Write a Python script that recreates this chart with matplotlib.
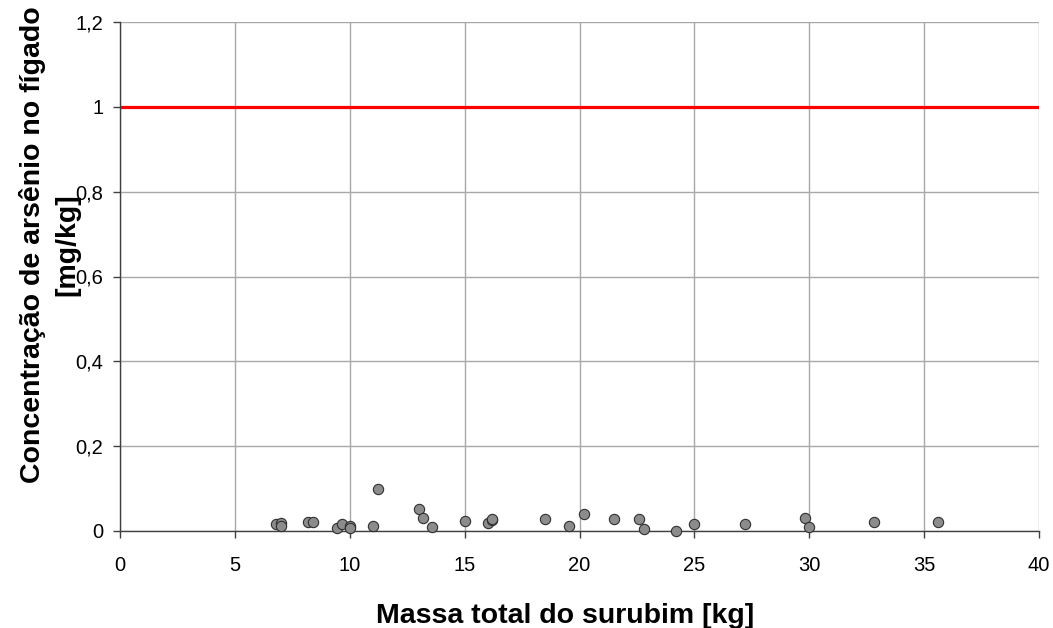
import matplotlib
matplotlib.use("Agg")
import matplotlib.pyplot as plt
from matplotlib.ticker import FuncFormatter

plt.rcParams['font.family'] = ['Liberation Sans', 'DejaVu Sans']

massa = [6.8, 7.0, 7.0, 8.2, 8.4, 9.45, 9.65, 10.0, 10.0, 11.0, 11.25, 13.0, 13.2, 13.6,
         15.0, 16.0, 16.2, 16.2, 18.5, 19.55, 20.2, 21.5, 22.6, 22.8, 24.2, 25.0, 27.2,
         29.8, 30.0, 32.8, 35.6]
arsenio = [0.017, 0.02, 0.012, 0.022, 0.022, 0.008, 0.017, 0.012, 0.006, 0.012, 0.10,
           0.051, 0.031, 0.009, 0.024, 0.02, 0.027, 0.029, 0.029, 0.012, 0.039, 0.029,
           0.029, 0.005, 0.0, 0.017, 0.017, 0.03, 0.01, 0.021, 0.021]
limite = 1.0
xticks = [0, 5, 10, 15, 20, 25, 30, 35, 40]
yticks = [0, 0.2, 0.4, 0.6, 0.8, 1.0, 1.2]

W, H = 1053, 628
L, R, T, B = 120, 1039, 22, 531
fig = plt.figure(figsize=(W/100, H/100), dpi=100)
ax = fig.add_axes([L/W, 1-B/H, (R-L)/W, (B-T)/H])

ax.grid(True, color='#a8a8a8', linewidth=1)
ax.set_axisbelow(True)
ax.axhline(limite, color='#ff0000', linewidth=2.3, zorder=2)
ax.scatter(massa, arsenio, s=55, facecolor='#8c8c8c', edgecolor='#303030',
           linewidth=0.8, zorder=3, clip_on=False)

ax.set_xlim(0, 40)
ax.set_ylim(0, 1.2)
ax.set_xticks(xticks)
ax.set_yticks(yticks)

def fmt(v, pos):
    return ('%g' % round(v, 2)).replace('.', ',')
ax.yaxis.set_major_formatter(FuncFormatter(fmt))
ax.xaxis.set_major_formatter(FuncFormatter(fmt))

for side in ['top', 'right']:
    ax.spines[side].set_visible(False)
for side in ['left', 'bottom']:
    ax.spines[side].set_color('#404040')
    ax.spines[side].set_linewidth(1)

ax.tick_params(axis='both', direction='out', length=5, width=1, color='#404040',
               labelsize=14.5, labelcolor='black')
ax.tick_params(axis='x', pad=13)
ax.tick_params(axis='y', pad=7)

ax.set_xlabel('Massa total do surubim [kg]', fontsize=20.5, fontweight='bold')
ax.xaxis.label.set_va('baseline')
ax.xaxis.set_label_coords((565 - L) / (R - L), (B - 623) / (B - T))
ax.set_ylabel('Concentração de arsênio no fígado\n[mg/kg]', fontsize=20.5,
              fontweight='bold', linespacing=1.4)
ax.yaxis.set_label_coords((80 - L) / (R - L), (B - 245) / (B - T))

fig.savefig('out.png', dpi=100)
